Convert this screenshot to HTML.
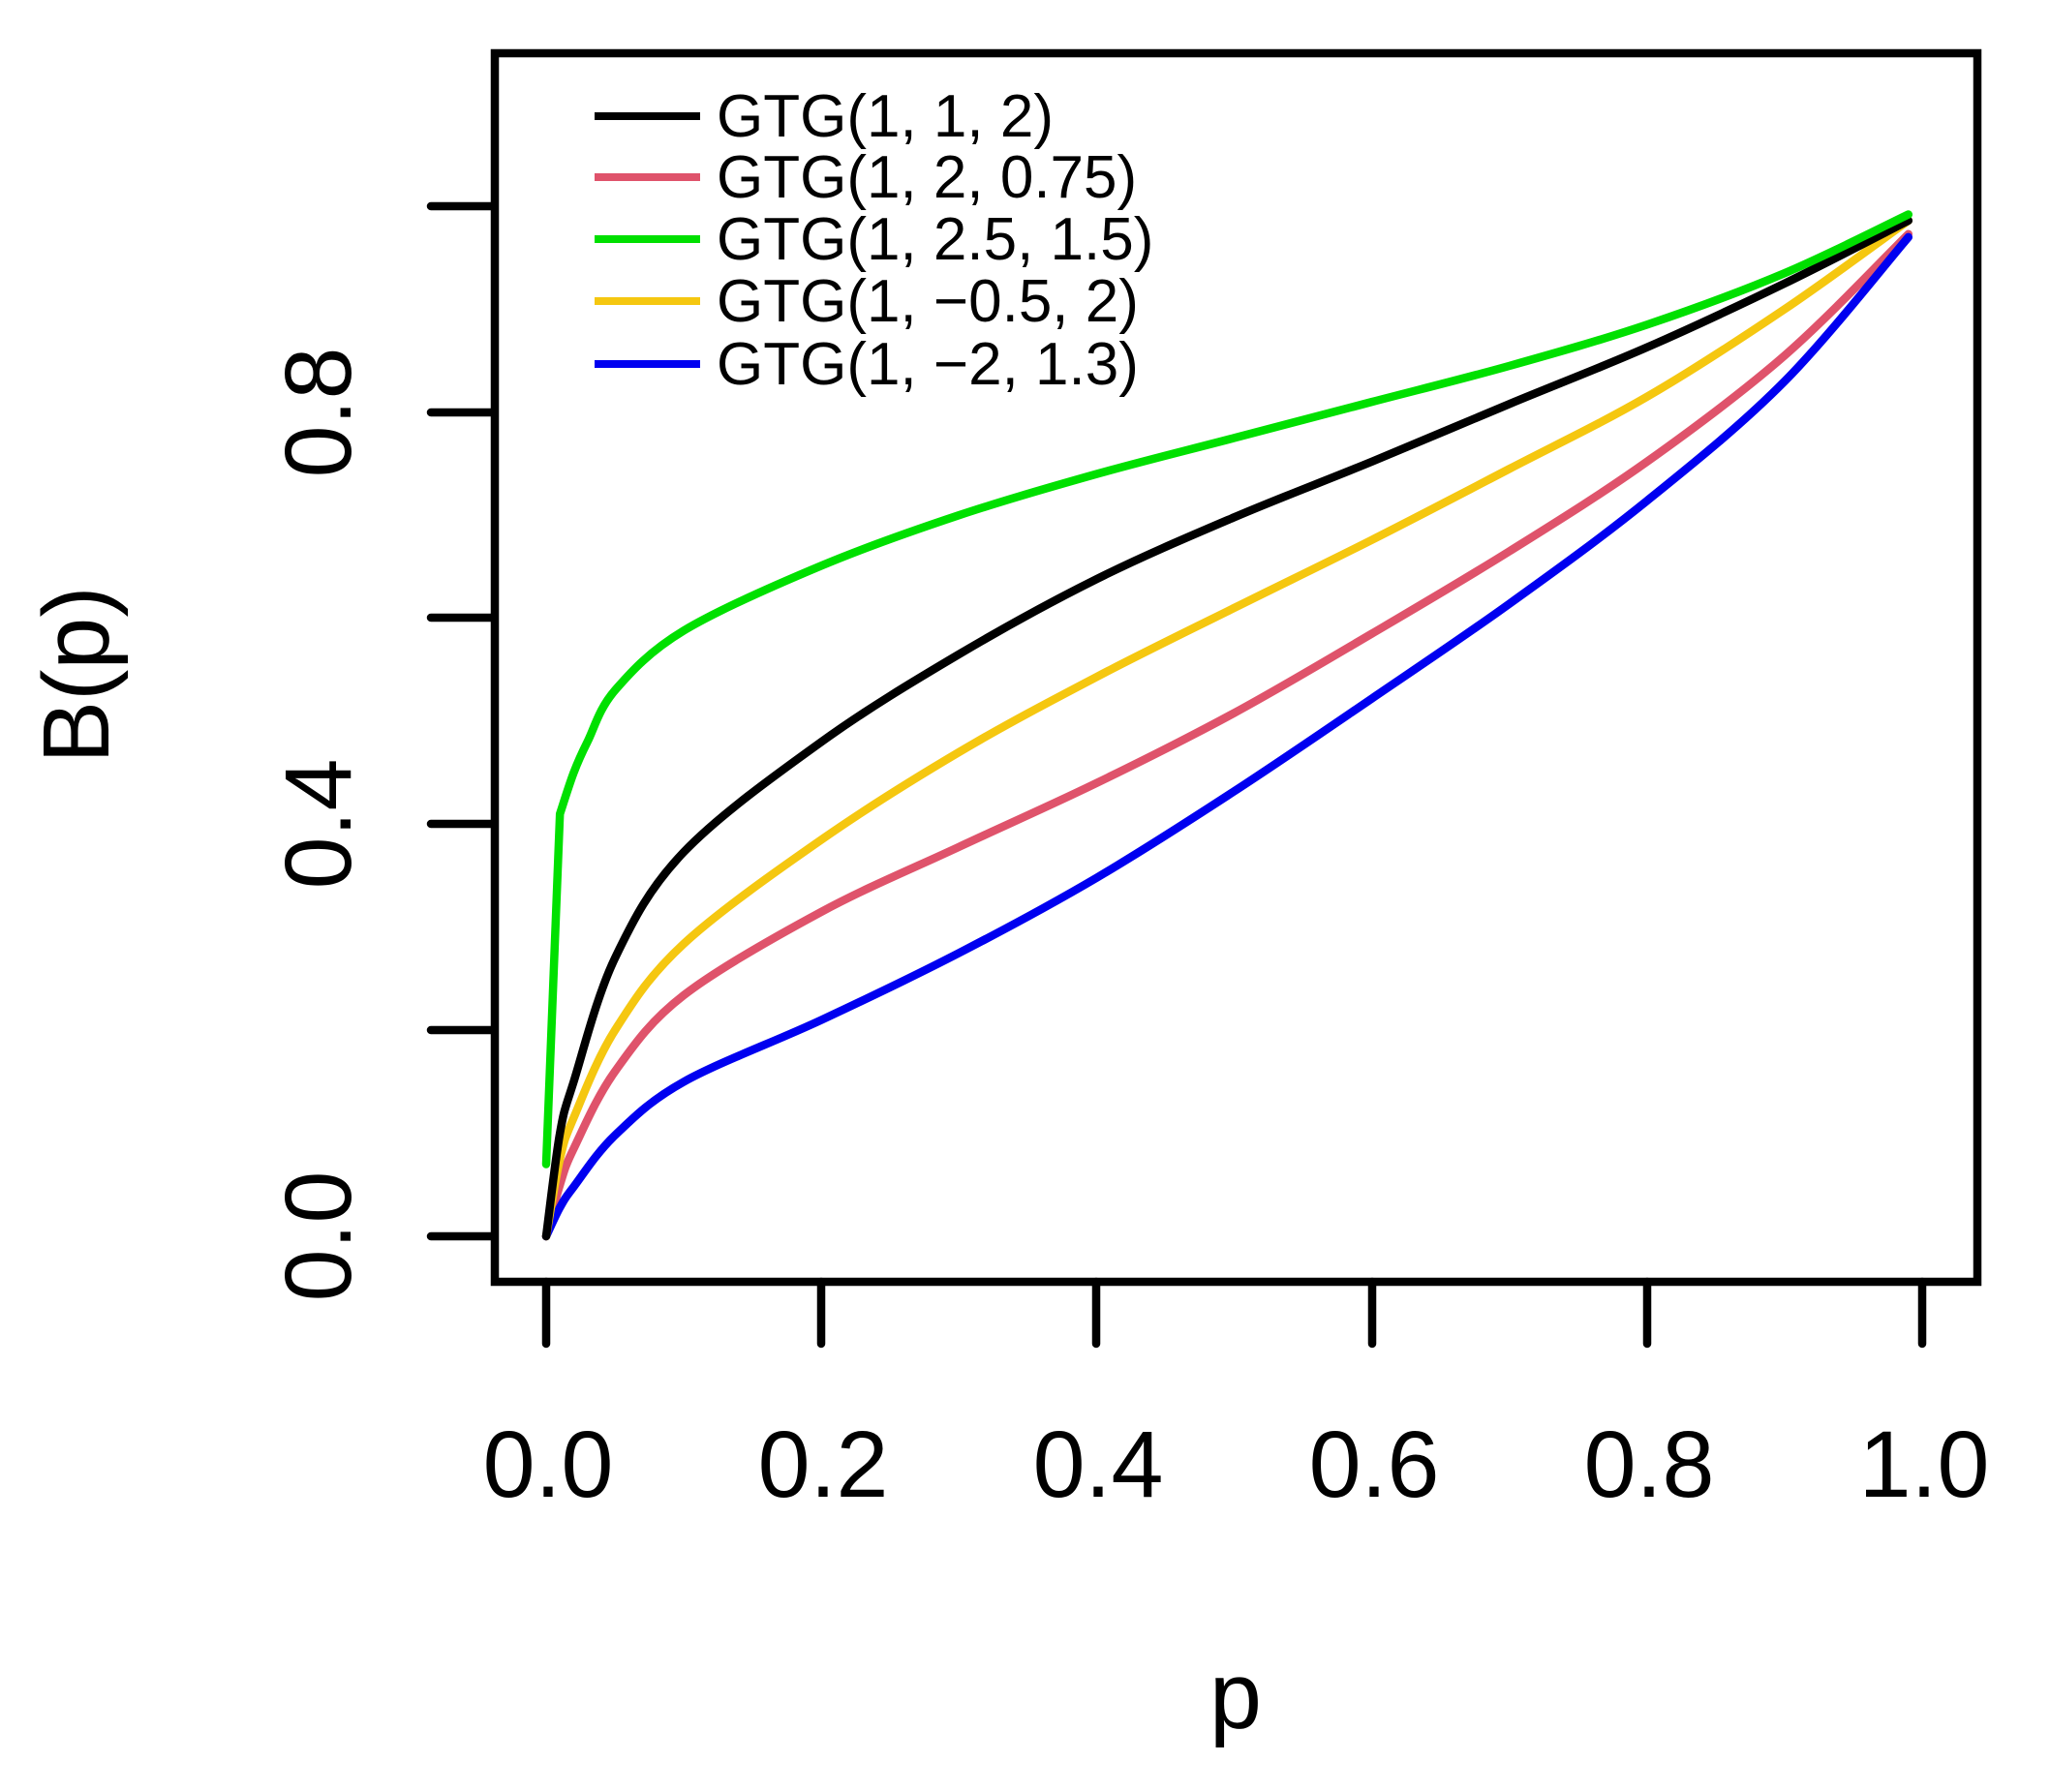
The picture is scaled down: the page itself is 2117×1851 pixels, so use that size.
<!DOCTYPE html>
<html><head><meta charset="utf-8"><style>
html,body{margin:0;padding:0;background:#fff}
svg{display:block}
text{font-family:"Liberation Sans",Arial,sans-serif;fill:#000}
</style></head><body>
<svg id="s" width="2117" height="1851" viewBox="0 0 2117 1851" xmlns="http://www.w3.org/2000/svg">
<rect x="0" y="0" width="2117" height="1851" fill="#fff"/>
<g id="curves" fill="none" stroke-width="8.5" stroke-linejoin="round" stroke-linecap="round"></g>
<rect x="511" y="55" width="1531" height="1269" fill="none" stroke="#000" stroke-width="8.5"/>
<g stroke="#000" stroke-width="8.5" stroke-linecap="round">
<line x1="564" y1="1324" x2="564" y2="1388"/>
<line x1="848" y1="1324" x2="848" y2="1388"/>
<line x1="1132" y1="1324" x2="1132" y2="1388"/>
<line x1="1417" y1="1324" x2="1417" y2="1388"/>
<line x1="1701" y1="1324" x2="1701" y2="1388"/>
<line x1="1985" y1="1324" x2="1985" y2="1388"/>
<line x1="445" y1="1277" x2="508" y2="1277"/>
<line x1="445" y1="1064" x2="508" y2="1064"/>
<line x1="445" y1="851" x2="508" y2="851"/>
<line x1="445" y1="638" x2="508" y2="638"/>
<line x1="445" y1="426" x2="508" y2="426"/>
<line x1="445" y1="213" x2="508" y2="213"/>
</g>
<g font-size="97" text-anchor="middle">
<text x="566" y="1546">0.0</text>
<text x="850" y="1546">0.2</text>
<text x="1134" y="1546">0.4</text>
<text x="1419" y="1546">0.6</text>
<text x="1703" y="1546">0.8</text>
<text x="1987" y="1546">1.0</text>
<text transform="translate(362,1277) rotate(-90)">0.0</text>
<text transform="translate(362,851) rotate(-90)">0.4</text>
<text transform="translate(362,426) rotate(-90)">0.8</text>
<text x="1276" y="1785">p</text>
<text transform="translate(112,697) rotate(-90)">B(p)</text>
</g>
<g stroke-width="8">
<line x1="614" y1="120" x2="723" y2="120" stroke="#000"/>
<line x1="614" y1="183" x2="723" y2="183" stroke="#DF536B"/>
<line x1="614" y1="247" x2="723" y2="247" stroke="#00E000"/>
<line x1="614" y1="311" x2="723" y2="311" stroke="#F5C710"/>
<line x1="614" y1="376" x2="723" y2="376" stroke="#0000F0"/>
</g>
<g font-size="62">
<text x="740" y="141">GTG(1, 1, 2)</text>
<text x="740" y="204">GTG(1, 2, 0.75)</text>
<text x="740" y="268">GTG(1, 2.5, 1.5)</text>
<text x="740" y="332">GTG(1, −0.5, 2)</text>
<text x="740" y="397">GTG(1, −2, 1.3)</text>
</g>
</svg>
<script>
var data=[
["#DF536B",[[0,0],[0.01,0.05],[0.02,0.085],[0.05,0.16],[0.1,0.234],[0.2,0.315],[0.3,0.378],[0.4,0.44],[0.5,0.508],[0.6,0.585],[0.7,0.665],[0.8,0.752],[0.9,0.855],[0.99,0.973]]],
["#0000F0",[[0,0],[0.01,0.028],[0.02,0.048],[0.05,0.098],[0.1,0.15],[0.2,0.21],[0.3,0.275],[0.4,0.348],[0.5,0.432],[0.6,0.522],[0.7,0.614],[0.8,0.714],[0.9,0.83],[0.99,0.97]]],
["#F5C710",[[0,0],[0.01,0.075],[0.02,0.115],[0.05,0.2],[0.1,0.284],[0.2,0.385],[0.3,0.47],[0.4,0.543],[0.5,0.61],[0.6,0.676],[0.7,0.745],[0.8,0.815],[0.9,0.9],[0.99,0.986]]],
["#000000",[[0,0],[0.01,0.1],[0.02,0.15],[0.05,0.27],[0.1,0.373],[0.2,0.48],[0.3,0.565],[0.4,0.638],[0.5,0.698],[0.6,0.752],[0.7,0.808],[0.8,0.863],[0.9,0.925],[0.99,0.986]]],
["#00E000",[[0,0.07],[0.01,0.41],[0.02,0.45],[0.03,0.48],[0.05,0.53],[0.1,0.588],[0.2,0.651],[0.3,0.7],[0.4,0.74],[0.5,0.775],[0.6,0.81],[0.7,0.845],[0.8,0.885],[0.9,0.935],[0.99,0.992]]]
];
function X(p){return 564+p*1421}function Y(v){return 1277-v*1064}
var g=document.getElementById('curves');
data.forEach(function(d){
 var pts=d[1].map(function(q){return [X(q[0]),Y(q[1])]});
 var s="M"+pts[0][0]+" "+pts[0][1];
 var green=d[0]=="#00E000";
 for(var i=0;i<pts.length-1;i++){
  if(green&&i==0){s+=" L"+pts[1][0]+" "+pts[1][1];continue;}
  var p0=pts[Math.max(i-1,0)],p1=pts[i],p2=pts[i+1],p3=pts[Math.min(i+2,pts.length-1)];
  if(green&&i==1)p0=p1;
  var c1=[p1[0]+(p2[0]-p0[0])/6,p1[1]+(p2[1]-p0[1])/6];
  var c2=[p2[0]-(p3[0]-p1[0])/6,p2[1]-(p3[1]-p1[1])/6];
  s+=" C"+c1.join(" ")+" "+c2.join(" ")+" "+p2.join(" ");
 }
 var e=document.createElementNS("http://www.w3.org/2000/svg","path");
 e.setAttribute("d",s);e.setAttribute("stroke",d[0]);g.appendChild(e);
});
</script>
</body></html>
